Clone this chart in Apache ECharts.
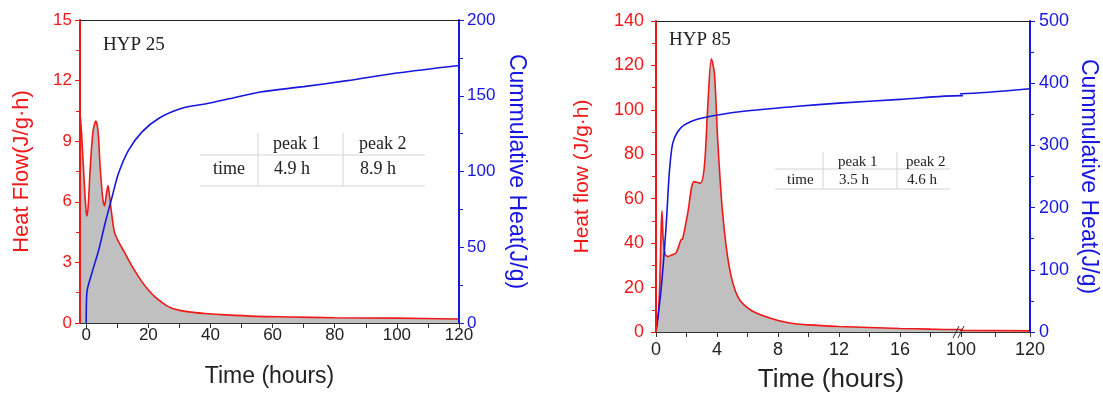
<!DOCTYPE html>
<html>
<head>
<meta charset="utf-8">
<script src="https://cdn.jsdelivr.net/npm/echarts@6.0.0/dist/echarts.min.js"></script>
<style>
  html, body { margin: 0; padding: 0; background: #fff; }
  #chart { width: 1103px; height: 394px; }
</style>
</head>
<body>
<div id="chart"></div>
<script>
// ---- HYP 25 (left panel) ----
var timeHF25 = [-2, -1.5, -1, -0.5, 0, 0.3, 0.8, 1.3, 2.2, 3.1, 3.8, 4.5, 5.3, 5.9, 6.5, 7.0, 7.5, 8.2, 9.1, 10.5,
                12.5, 15, 17.9, 20.5, 23.3, 26, 28.6, 33, 38.3, 45, 55, 65, 80, 100, 120];
var heatFlow25 = [10.4, 9.4, 8.0, 6.6, 5.5, 5.3, 6.2, 7.7, 9.5, 10.0, 9.5, 7.7, 6.2, 5.8, 6.4, 6.8, 6.3, 5.4, 4.5, 4.0,
                  3.45, 2.75, 2.05, 1.55, 1.14, 0.85, 0.68, 0.55, 0.47, 0.4, 0.33, 0.3, 0.26, 0.24, 0.2];
var timeCum25 = [0, 0.2, 1.8, 4.0, 6.1, 8.3, 10.4, 13.6, 17.9, 23.3, 30.8, 38.3, 46, 56, 70, 84, 100, 120];
var cumHeat25 = [0, 20, 32.8, 48, 66, 83, 98.8, 114, 126, 135, 141.7, 144.6, 148, 152.5, 156, 160, 165, 170];
var xTicks25 = [0, 10, 20, 30, 40, 50, 60, 70, 80, 90, 100, 110, 120];
var xLabels25 = [0, 20, 40, 60, 80, 100, 120];

// ---- HYP 85 (right panel, broken time axis 0-20 | 100-120) ----
var timeHF85 = [0, 0.15, 0.25, 0.33, 0.39, 0.47, 0.6, 0.8, 1.0, 1.3, 1.64, 1.75, 2.08, 2.5, 2.9, 3.17, 3.39, 3.63, 3.83, 4.05,
                4.37, 4.8, 5.36, 6.2, 7.5, 8.85, 10, 12, 14, 16, 18, 20, 100, 120];
var heatFlow85 = [0.8, 8, 22, 45, 54.6, 42, 35, 34, 34.6, 35.5, 41.5, 42, 53.4, 67.7, 67, 74.4, 101, 123, 116.5, 86,
                  53.4, 29.4, 15.9, 9.9, 6.2, 3.9, 3.2, 2.5, 2.0, 1.6, 1.3, 1.1, 0.7, 0.5];
var timeCum85 = [0, 0.33, 0.66, 0.87, 1.09, 1.42, 1.86, 2.7, 4.05, 6.2, 9.3, 12, 16, 20, 100, 120];
var cumHeat85 = [0, 67.5, 169, 255, 303, 322, 333, 342, 349, 356, 363, 368, 374, 380, 383, 391];
var xTicks85a = [0, 2, 4, 6, 8, 10, 12, 14, 16, 18];
var xLabels85a = [0, 4, 8, 12, 16];
var xTicks85b = [100, 110, 120];
var xLabels85b = [100, 120];

// ---- peak tables ----
var peakHeaders = ['peak 1', 'peak 2'];
var rowName = 'time';
var peakTimes25 = ['4.9 h', '8.9 h'];
var peakTimes85 = ['3.5 h', '4.6 h'];

var RED = '#f01818';
var BLUE = '#1616e0';
var GRAY = '#c0c0c0';
var SANS = 'Liberation Sans';
var SERIF = 'Liberation Serif';

function pairs(xs, ys) {
    return xs.map(function (x, i) { return [x, ys[i]]; });
}

var myChart = echarts.init(document.getElementById('chart'));

function bottomAxis(grid, min, max, ticks, labels, fontSize, margin) {
    return {
        type: 'value', gridIndex: grid, position: 'bottom', min: min, max: max, z: 5,
        axisLine: { show: true, onZero: false, lineStyle: { color: '#333', width: 1.2 } },
        axisTick: { show: true, length: 5, customValues: ticks, lineStyle: { color: '#333' } },
        axisLabel: { customValues: labels, color: '#222', fontSize: fontSize, fontFamily: SANS, margin: margin },
        splitLine: { show: false }
    };
}
function topAxis(grid, min, max) {
    return {
        type: 'value', gridIndex: grid, position: 'top', min: min, max: max, z: 5,
        axisLine: { show: true, onZero: false, lineStyle: { color: '#222', width: 1.2 } },
        axisTick: { show: false }, axisLabel: { show: false }, splitLine: { show: false }
    };
}
function sideAxis(grid, pos, max, interval, color, name, nameGap, nameSize, labelSize, margin) {
    return {
        type: 'value', gridIndex: grid, position: pos, min: 0, max: max, interval: interval, z: 5,
        name: name, nameLocation: 'middle', nameGap: nameGap, nameRotate: pos === 'left' ? 90 : -90,
        nameTextStyle: { color: color, fontSize: nameSize, fontFamily: SANS },
        axisLine: { show: true, onZero: false, lineStyle: { color: color, width: 2 } },
        axisTick: { show: true, length: 5, lineStyle: { color: color } },
        minorTick: { show: true, splitNumber: 2, length: 4, lineStyle: { color: color } },
        axisLabel: { color: color, fontSize: labelSize, fontFamily: SANS, margin: margin },
        splitLine: { show: false }
    };
}
function hiddenAxis(grid, max) {
    return { type: 'value', gridIndex: grid, min: 0, max: max, show: false };
}
function lineSeries(xi, yi, data, color, fill) {
    var s = {
        type: 'line', xAxisIndex: xi, yAxisIndex: yi, data: data,
        showSymbol: false, smooth: 0.3, clip: true, silent: true,
        lineStyle: { color: color, width: 1.6 }, z: fill ? 2 : 3
    };
    if (fill) s.areaStyle = { color: GRAY, opacity: 1 };
    return s;
}

// table drawn as text + thin rules
function table(x0, x1, yHead, yRow, yTop, yRule, yBottom, colLines, colText, fontSize, values) {
    var els = [];
    var lc = { stroke: '#d4d4d4', lineWidth: 1 };
    els.push({ type: 'line', shape: { x1: x0, y1: yRule, x2: x1, y2: yRule }, style: lc });
    els.push({ type: 'line', shape: { x1: x0, y1: yBottom, x2: x1, y2: yBottom }, style: lc });
    colLines.forEach(function (cx) {
        els.push({ type: 'line', shape: { x1: cx, y1: yTop, x2: cx, y2: yBottom }, style: lc });
    });
    var ts = function (t, x, y) {
        return { type: 'text', x: x, y: y, style: { text: t, fill: '#222', font: fontSize + 'px "' + SERIF + '"', verticalAlign: 'middle', align: 'left' } };
    };
    els.push(ts(rowName, colText[0], yRow));
    peakHeaders.forEach(function (h, i) {
        els.push(ts(h, colText[i + 1], yHead));
        els.push(ts(values[i], colText[i + 1] + 1, yRow));
    });
    return els;
}

var graphics = []
    .concat(table(200, 425, 144, 169, 133, 155, 186, [258, 343], [213, 273, 359], 18, peakTimes25))
    .concat(table(775, 950, 162, 180, 152, 169, 189, [823, 897], [787, 838, 906], 15, peakTimes85));
// axis break marks
graphics.push({ type: 'line', shape: { x1: 953, y1: 338, x2: 959, y2: 326 }, style: { stroke: '#333', lineWidth: 1 }, z: 10 });
graphics.push({ type: 'line', shape: { x1: 958, y1: 338, x2: 964, y2: 326 }, style: { stroke: '#333', lineWidth: 1 }, z: 10 });
graphics.push({
    type: 'text', x: 831, y: 380,
    style: { text: 'Time (hours)', fill: '#222', font: '26px "' + SANS + '"', align: 'center', verticalAlign: 'middle' }
});

var left25 = bottomAxis(0, -2, 120, xTicks25, xLabels25, 17, 4);
left25.name = 'Time (hours)';
left25.nameLocation = 'middle';
left25.nameGap = 42;
left25.nameTextStyle = { color: '#222', fontSize: 23, fontFamily: SANS };

option = {
    animation: false,
    backgroundColor: '#fff',
    title: [
        { text: 'HYP 25', left: 103, top: 36, padding: 0, textStyle: { fontFamily: SERIF, fontSize: 19, fontWeight: 'normal', color: '#222' } },
        { text: 'HYP 85', left: 669, top: 31, padding: 0, textStyle: { fontFamily: SERIF, fontSize: 19, fontWeight: 'normal', color: '#222' } }
    ],
    grid: [
        { left: 80, top: 20, width: 379, height: 303 },
        { left: 656, top: 21, width: 305, height: 311 },
        { left: 961, top: 21, width: 69, height: 311 }
    ],
    xAxis: [
        left25,
        topAxis(0, -2, 120),
        bottomAxis(1, 0, 20, xTicks85a, xLabels85a, 18, 9),
        topAxis(1, 0, 20),
        bottomAxis(2, 100, 120, xTicks85b, xLabels85b, 18, 9),
        topAxis(2, 100, 120)
    ],
    yAxis: [
        sideAxis(0, 'left', 15, 3, RED, 'Heat Flow(J/g·h)', 47, 22, 17, 8),
        sideAxis(0, 'right', 200, 50, BLUE, 'Cummulative Heat(J/g)', 46, 23, 17, 8),
        sideAxis(1, 'left', 140, 20, RED, 'Heat flow (J/g·h)', 63, 21, 18, 12),
        hiddenAxis(1, 500),
        hiddenAxis(2, 140),
        sideAxis(2, 'right', 500, 100, BLUE, 'Cummulative Heat(J/g)', 47, 23, 18, 9)
    ],
    series: [
        lineSeries(0, 0, pairs(timeHF25, heatFlow25), RED, true),
        lineSeries(0, 1, pairs(timeCum25, cumHeat25), BLUE, false),
        lineSeries(2, 2, pairs(timeHF85, heatFlow85), RED, true),
        lineSeries(2, 3, pairs(timeCum85, cumHeat85), BLUE, false),
        lineSeries(4, 4, pairs(timeHF85, heatFlow85), RED, true),
        lineSeries(4, 5, pairs(timeCum85, cumHeat85), BLUE, false)
    ],
    graphic: graphics
};

myChart.setOption(option);
window.addEventListener("resize", function () {
    myChart.resize();
});
</script>
</body>
</html>
